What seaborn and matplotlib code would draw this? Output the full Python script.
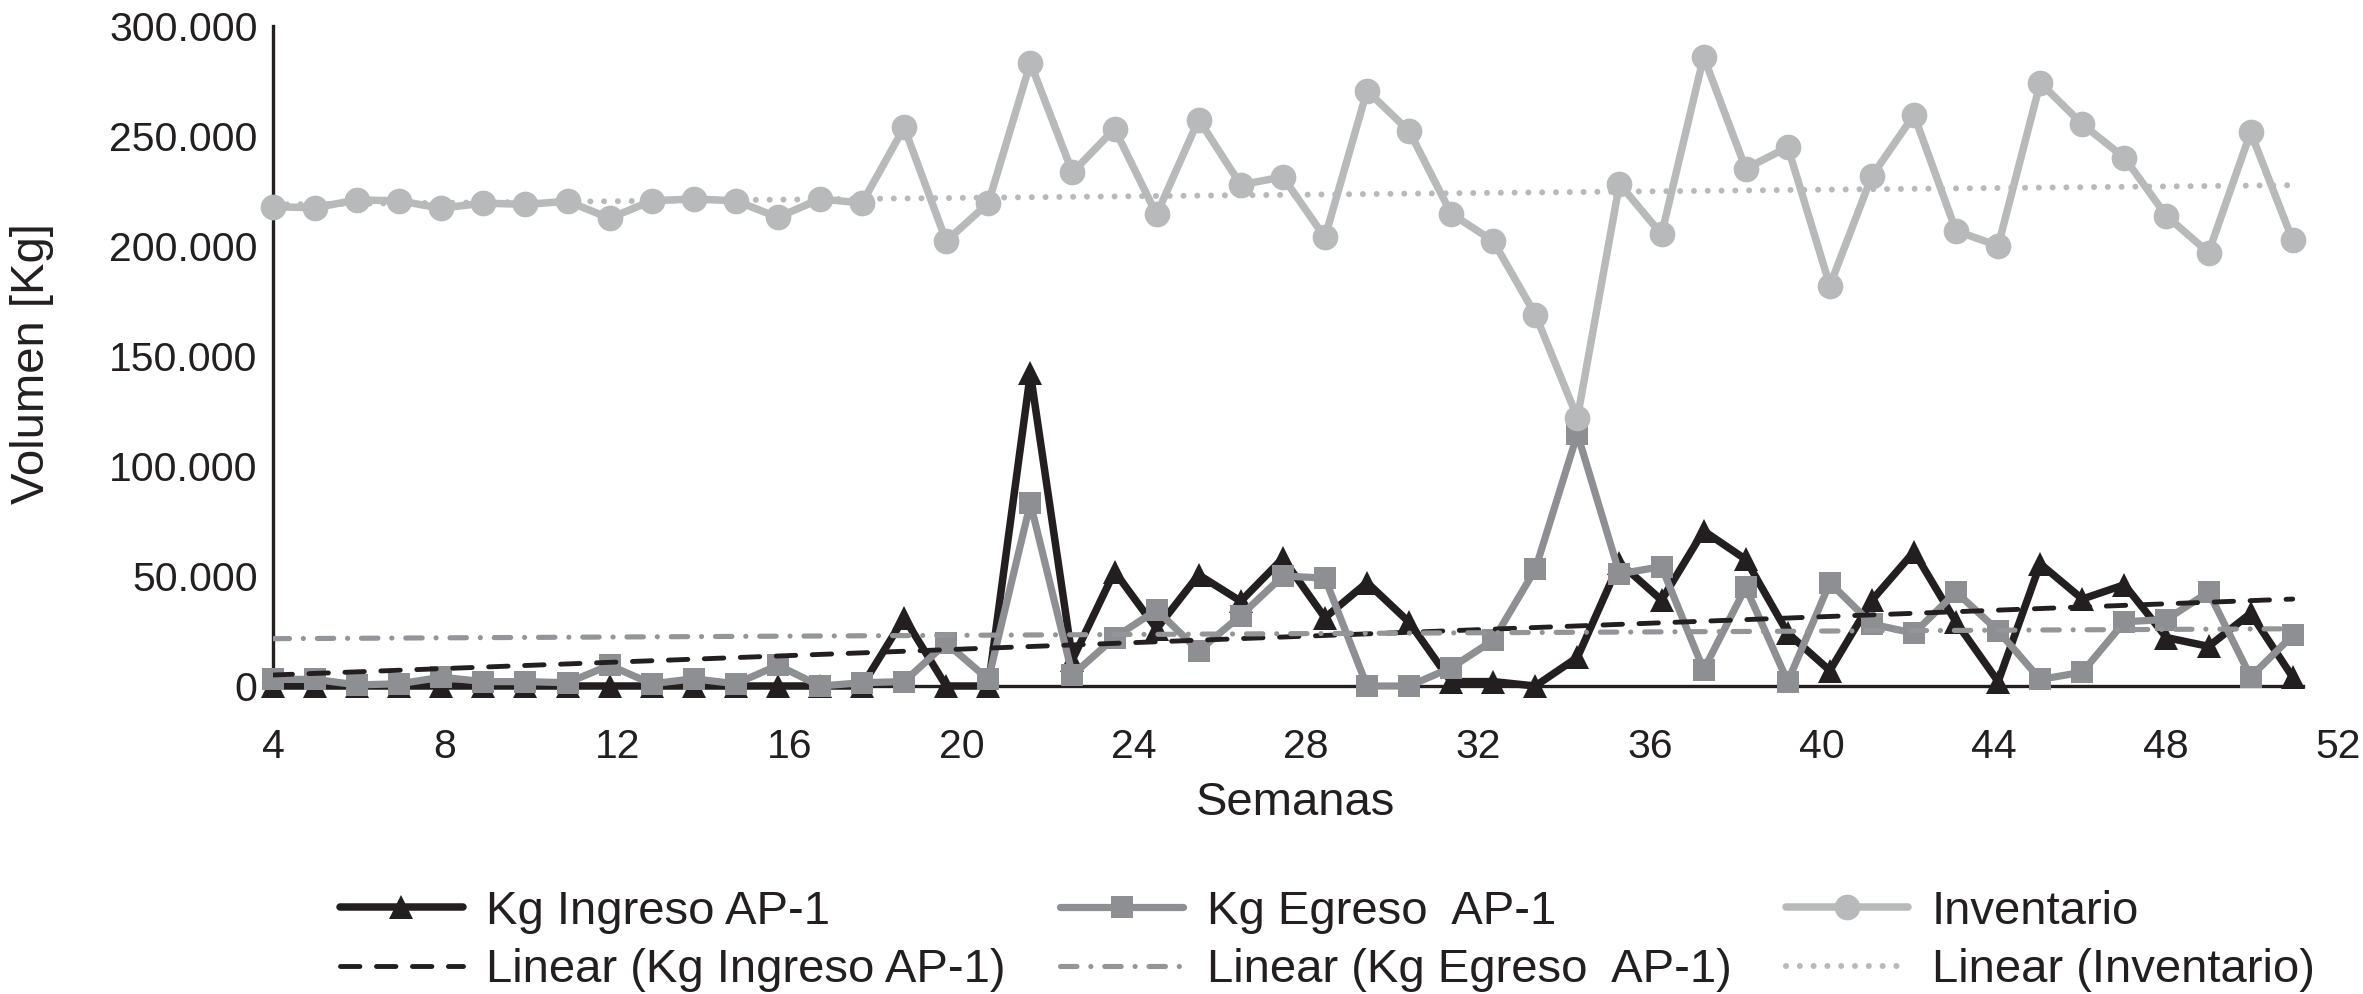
import numpy as np
import pandas as pd
import matplotlib
matplotlib.use("Agg")
import matplotlib.pyplot as plt
import seaborn as sns
from matplotlib.ticker import FuncFormatter, FixedLocator

# ---------------- data ----------------
registro = list(range(49))  # consecutive weekly records

kg_ingreso = [0, 0, 0, 0, 0, 0, 0, 0, 0, 0, 0, 0, 0, 0, 0,
              31000, 0, 0, 142000, 12000, 52000, 26000, 50500, 38500, 58000,
              31000, 47000, 29000, 2000, 2000, 0, 13000, 56000, 39000, 70500,
              57500, 24000, 7000, 39000, 61000, 29000, 2000, 55500, 39500, 46000,
              22000, 18000, 33000, 4000]

kg_egreso = [3000, 3000, 500, 1000, 4000, 2000, 2000, 1500, 9400, 1000,
             3300, 1000, 9400, 0, 1500, 2000, 19500, 3000, 83000, 5000,
             22000, 34500, 16000, 32000, 50000, 49000, 0, 0, 8300, 20800,
             53000, 114500, 51000, 54200, 7300, 44800, 2000, 46900, 28100, 24000,
             42700, 25000, 3000, 6250, 29200, 30200, 42700, 4200, 23000]

inventario = [217700, 217300, 220800, 220400, 217000, 219400, 218750, 220200, 212500, 220400,
              221250, 220400, 212900, 221250, 219400, 253750, 202100, 219400, 283000, 233300,
              253100, 214200, 257300, 227700, 231250, 203750, 270400, 252100, 214600, 202100,
              168750, 121900, 228100, 205200, 285800, 235000, 244800, 181900, 231700, 259400,
              206700, 200000, 274000, 255200, 240000, 213500, 196900, 251500, 202500]

# linear trend lines: values at first and last record
tend_registro = [registro[0], registro[-1]]
tend_ingreso = [5000, 39500]
tend_egreso = [21500, 26000]
tend_inventario = [218750, 227500]

semanas_labels = [4, 8, 12, 16, 20, 24, 28, 32, 36, 40, 44, 48, 52]
y_ticks = [0, 50000, 100000, 150000, 200000, 250000, 300000]

# ---------------- style ----------------
C_ING = "#231f20"
C_EGR = "#8e8f92"
C_INV = "#b8b9bb"
C_TEGR = "#939598"

sns.set_theme(style="white")
plt.rcParams["font.family"] = ["Liberation Sans", "DejaVu Sans"]

W, H = 2363, 994
fig = plt.figure(figsize=(W / 100, H / 100), dpi=100)
ax = fig.add_axes([273 / W, 1 - 686 / H, (2339 - 273) / W, (686 - 25.6) / H])

common = dict(markeredgewidth=0, clip_on=False, solid_capstyle="round",
              solid_joinstyle="round")
sns.lineplot(x=registro, y=kg_ingreso, ax=ax, color=C_ING, linewidth=5.4,
             marker="^", markersize=17.5, label="Kg Ingreso AP-1",
             zorder=3, **common)
sns.lineplot(x=registro, y=kg_egreso, ax=ax, color=C_EGR, linewidth=5.2,
             marker="s", markersize=16, label="Kg Egreso  AP-1",
             zorder=4, **common)
sns.lineplot(x=registro, y=inventario, ax=ax, color=C_INV, linewidth=5.4,
             marker="o", markersize=18.5, label="Inventario",
             zorder=5, **common)

sns.lineplot(x=tend_registro, y=tend_ingreso, ax=ax, color=C_ING, linewidth=3.5,
             label="Linear (Kg Ingreso AP-1)", zorder=6)
ax.lines[-1].set_dashes([4.0, 3.4])
ax.lines[-1].set_dash_capstyle("round")
sns.lineplot(x=tend_registro, y=tend_egreso, ax=ax, color=C_TEGR, linewidth=3.7,
             label="Linear (Kg Egreso  AP-1)", zorder=6)
ax.lines[-1].set_dashes([3.2, 2.7, 0.01, 2.7])
ax.lines[-1].set_dash_capstyle("round")
sns.lineplot(x=tend_registro, y=tend_inventario, ax=ax, color=C_INV, linewidth=4.3,
             label="Linear (Inventario)", zorder=6)
ax.lines[-1].set_dashes([0.01, 2.3])
ax.lines[-1].set_dash_capstyle("round")

# ---------------- axes ----------------
ax.set_ylim(0, 300000)
ax.set_xlim(0, 49.1)
ESCALA = 1.0226  # label spacing relative to record spacing
ax.xaxis.set_major_locator(FixedLocator([ESCALA * (s - 4) for s in semanas_labels]))
ax.set_xticklabels([str(s) for s in semanas_labels])
ax.yaxis.set_major_locator(FixedLocator(y_ticks))
ax.yaxis.set_major_formatter(FuncFormatter(lambda v, p: f"{int(v):,}".replace(",", ".")))
ax.tick_params(axis="both", length=0, labelsize=29.5, colors="#231f20")
ax.tick_params(axis="y", pad=11)
ax.tick_params(axis="x", pad=30)

for side in ["top", "right"]:
    ax.spines[side].set_visible(False)
for side in ["left", "bottom"]:
    ax.spines[side].set_color("#231f20")
    ax.spines[side].set_linewidth(2.4)
ax.spines["bottom"].set_bounds(0, 48.25)
ax.grid(False)

ax.set_xlabel("Semanas", fontsize=34, color="#231f20")
ax.xaxis.set_label_coords(0.495, -0.177)
ax.xaxis.label.set_va("center")
ax.set_ylabel("Volumen [Kg]", fontsize=34, color="#231f20")
ax.yaxis.set_label_coords(-0.1168, 0.489)
ax.yaxis.label.set_va("center")

handles, labels = ax.get_legend_handles_labels()
order = [0, 3, 1, 4, 2, 5]
ax.get_legend().remove()
fig.legend([handles[i] for i in order], [labels[i] for i in order],
           loc="upper left", bbox_to_anchor=(340 / W, 1 - 890 / H), ncol=3,
           frameon=False, fontsize=34, handlelength=2.6, handletextpad=0.5,
           columnspacing=1.15, labelspacing=0.3, borderpad=0, borderaxespad=0,
           labelcolor="#231f20")

fig.savefig("out.png", dpi=100)
